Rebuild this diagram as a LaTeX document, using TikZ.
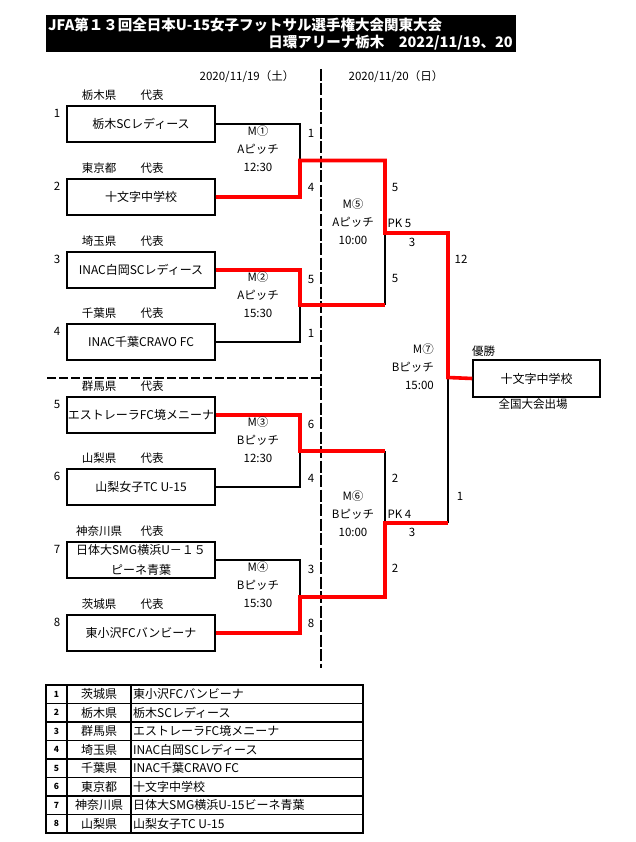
\documentclass[tikz,border=0pt]{standalone}
\usepackage{fontspec}
\setmainfont{Noto Sans CJK JP}
\usepackage{xcolor}
\usepackage{tikz}
\usetikzlibrary{positioning,calc}
\definecolor{doThang}{RGB}{255,0,0}

\begin{document}
\begin{tikzpicture}[x=1pt,y=-1pt,
		doi/.style={draw,line width=1.5pt,minimum width=148pt,minimum height=36pt,inner sep=0pt,align=center,font=\fontsize{12}{14}\selectfont},
		nhan/.style={inner sep=0pt,font=\fontsize{11.5}{13}\selectfont},
		tran/.style={inner sep=0pt,align=center,font=\fontsize{11.5}{18}\selectfont},
		nhanh/.style={line width=1.3pt},
		nhanhthang/.style={draw=doThang,line width=3.6pt,line join=miter}]
			\useasboundingbox (0,0) rectangle (636,842);
			
			% tiêu đề
			\fill (46,15) rectangle (516,52);
			\node[anchor=west,text=white,inner sep=0pt,font=\fontsize{14.5}{16}\selectfont\bfseries] (tieude1) at (48,24.5) {JFA第１３回全日本U-15女子フットサル選手権大会関東大会};
			\node[anchor=east,text=white,inner sep=0pt,font=\fontsize{14.5}{16}\selectfont\bfseries] (tieude2) at (513,42.5) {日環アリーナ栃木　2022/11/19、20};
			
			% ngày thi đấu và đường chia
			\node[nhan] (ngay1) at (247,77) {2020/11/19（土）};
			\node[nhan] (ngay2) at (396,77) {2020/11/20（日）};
			\draw[line width=2pt,dash pattern=on 12pt off 2.5pt] (321,69) -- (321,668);
			\draw[line width=2pt,dash pattern=on 9pt off 3pt] (47,377.5) -- (321,377.5);
			
			% các đội
			\foreach \i/\y/\ten/\tinh in {1/124/栃木SCレディース/栃木県,2/197/十文字中学校/東京都,3/270/INAC白岡SCレディース/埼玉県,4/342/INAC千葉CRAVO FC/千葉県,5/415/エストレーラFC境メニーナ/群馬県,6/487/山梨女子TC U-15/山梨県,7/560/{日体大SMG横浜U－１５\\[6pt]ピーネ青葉}/神奈川県,8/633/東小沢FCバンビーナ/茨城県} {
				\node[doi] (t\i) at (141,\y) {\ten};
				\node[nhan] (tinh\i) at (99,\y-29) {\tinh};
				\node[nhan] (dd\i) at (152,\y-29) {代表};
				\node[nhan] (so\i) at (57,\y-11) {\i};
			}
			
			% điểm nối của nhánh
			\coordinate (m1) at (300,160.5);
			\coordinate (m2) at (300,305);
			\coordinate (m3) at (300,451);
			\coordinate (m4) at (300,597);
			\coordinate (m5) at (385,233);
			\coordinate (m6) at (385,523);
			\coordinate (m7) at (448,377.5);
			
			% đội vô địch
			\node[doi,minimum width=127pt,minimum height=37pt] (vodich) at (536.5,378.5) {十文字中学校};
			\node[nhan,anchor=west] (uusho) at (472,351) {優勝};
			\node[nhan] (zenkoku) at (533,404) {全国大会出場};
			
			% nhánh thua
			\draw[nhanh] (t1.east) -| (m1);
			\draw[nhanh] (t4.east) -| (m2);
			\draw[nhanh] (t6.east) -| (m3);
			\draw[nhanh] (t7.east) -| (m4);
			\draw[nhanh] (m2 -| m5) -- (m5);
			\draw[nhanh] (m3 -| m6) -- (m6);
			\draw[nhanh] (m6 -| m7) -- (m7);
			
			% nhánh thắng
			\draw[nhanhthang] (t2.east) -| (m1) -| (m5) -| (m7) -- (vodich.west);
			\draw[nhanhthang] (t3.east) -| (m2) -- (m2 -| m5);
			\draw[nhanhthang] (t5.east) -| (m3) -- (m3 -| m6);
			\draw[nhanhthang] (t8.east) -| (m4) -| (m6) -- (m6 -| m7);
			
			% trận vòng 1
			\foreach \k/\c/\y/\p/\gio/\a/\b in {1/①/124/A/12:30/1/4,2/②/270/A/15:30/5/1,3/③/415/B/12:30/6/4,4/④/560/B/15:30/3/8} {
				\node[tran] (tran\k) at (258,\y+25) {M\c\\\p ピッチ\\\gio};
				\node[nhan] (tren\k) at (311,\y+9) {\a};
				\node[nhan] (duoi\k) at (311,\y+63) {\b};
			}
			
			% bán kết và chung kết
			\node[tran] (tran5) at (353,222) {M⑤\\Aピッチ\\10:00};
			\node[nhan] (tren5) at (395,187) {5};
			\node[nhan] (pk5) at (399.5,223) {PK 5};
			\node[nhan] (pkb5) at (412,242) {3};
			\node[nhan] (duoi5) at (395,278) {5};
			\node[tran] (tran6) at (353,514) {M⑥\\Bピッチ\\10:00};
			\node[nhan] (tren6) at (395,478) {2};
			\node[nhan] (pk6) at (399.5,514) {PK 4};
			\node[nhan] (pkb6) at (412,532) {3};
			\node[nhan] (duoi6) at (395,568) {2};
			\node[tran,align=right,anchor=east] (tran7) at (434,367) {M⑦\\Bピッチ\\15:00};
			\node[nhan] (tren7) at (461,259) {12};
			\node[nhan] (duoi7) at (460,496) {1};
			
			% bảng danh sách
			\draw[line width=1.6pt] (46,685) rectangle (363,833);
			\foreach \i in {1,...,7} { \draw[line width=1.2pt] (46,685+18.5*\i) -- (363,685+18.5*\i); }
			\draw[line width=1.2pt] (67,685) -- (67,833);
			\draw[line width=1.2pt] (131,685) -- (131,833);
			\foreach \i/\tinh/\ten in {1/茨城県/東小沢FCバンビーナ,2/栃木県/栃木SCレディース,3/群馬県/エストレーラFC境メニーナ,4/埼玉県/INAC白岡SCレディース,5/千葉県/INAC千葉CRAVO FC,6/東京都/十文字中学校,7/神奈川県/日体大SMG横浜U-15ビーネ青葉,8/山梨県/山梨女子TC U-15} {
				\node[inner sep=0pt,font=\fontsize{8.5}{10}\selectfont\bfseries] (bso\i) at (56.5,685+18.5*\i-9.25) {\i};
				\node[nhan,font=\fontsize{12}{14}\selectfont] (btinh\i) at (99,685+18.5*\i-9.25) {\tinh};
				\node[nhan,anchor=west,font=\fontsize{12}{14}\selectfont] (bten\i) at (133,685+18.5*\i-9.25) {\ten};
			}
		\end{tikzpicture}
\end{document}
